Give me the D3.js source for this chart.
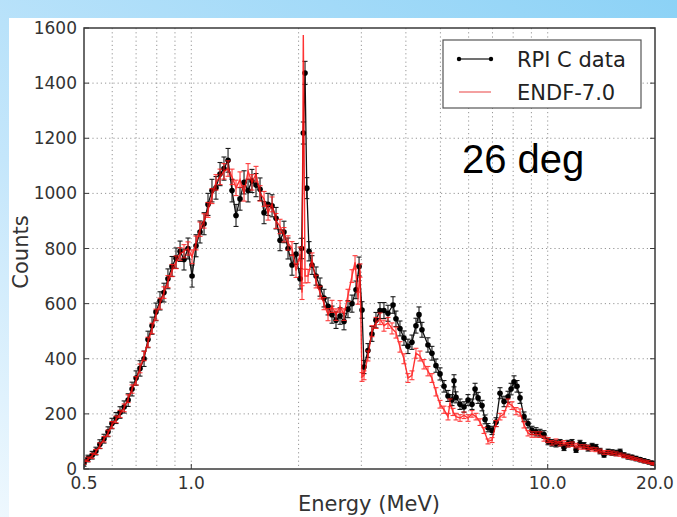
<!DOCTYPE html>
<html>
<head>
<meta charset="utf-8">
<script src="https://d3js.org/d3.v7.min.js"></script>
<style>
body {margin:0; padding:0; overflow:hidden}
svg {display:block}
</style>
</head>
<body>
<svg id="chart" width="677" height="517"></svg>
<script>

var rpiEnergy = [0.500,0.513,0.527,0.540,0.554,0.569,0.584,0.599,0.615,0.631,0.648,0.665,0.682,0.700,
    0.718,0.737,0.756,0.776,0.796,0.817,0.838,0.860,0.883,0.906,0.930,0.954,0.979,
    1.005,1.031,1.058,1.086,1.114,1.143,1.173,1.204,1.235,1.268,1.301,1.335,1.370,1.406,1.443,1.480,1.519,1.559,1.600,1.642,1.685,1.729,1.774,1.820,1.868,1.917,1.967,
    2.019,2.040,2.062,2.085,2.109,2.140,2.181,2.239,2.297,2.357,2.419,2.482,2.547,2.614,2.682,2.752,2.824,2.898,2.956,
    3.013,3.052,3.131,3.213,3.297,3.384,3.472,3.563,3.681,3.752,3.850,3.951,4.054,4.160,4.269,4.354,4.438,4.613,4.734,4.858,4.987,5.117,5.251,5.389,5.459,5.530,5.675,5.823,5.976,
    6.132,6.254,6.376,6.542,6.670,6.800,6.978,7.161,7.348,7.541,7.738,7.890,8.044,8.201,8.362,8.581,8.806,9.036,9.273,9.515,9.764,
    10.02,10.28,10.55,10.83,11.11,11.40,11.70,12.01,12.32,12.64,12.98,13.32,13.66,14.02,14.39,14.77,15.15,15.55,15.96,16.37,16.80,17.24,17.69,18.16,18.63,19.12,19.62,20.0]

var rpiCounts = [22,38,50,65,90,110,135,165,185,205,225,250,290,330,
    365,400,470,520,570,610,640,690,735,765,790,760,800,
    700,810,860,890,960,1010,1020,1070,1090,1120,1010,920,980,1040,1010,1045,1030,1015,930,960,955,910,830,860,800,740,780,
    690,800,1219,1437,1019,790,740,700,660,620,590,560,540,555,535,580,600,650,735,
    577,370,430,490,540,575,575,565,595,545,510,475,445,460,520,560,505,450,420,375,345,300,265,250,320,260,235,225,250,
    235,290,258,230,180,150,140,170,275,245,262,290,316,300,258,190,165,140,135,130,125,
    100,95,92,95,78,92,95,70,92,85,76,82,78,65,52,62,60,58,62,50,45,42,38,34,30,26,22,20]

var rpiErr = [12,12,14,14,16,16,18,19,20,21,22,23,25,26,
    28,28,30,31,32,33,34,36,36,37,37,38,38,
    40,40,40,40,40,41,41,42,42,43,41,40,41,42,41,42,42,41,40,40,40,39,38,39,38,37,38,
    37,37,40,42,38,35,34,33,33,32,31,31,30,30,30,31,31,32,34,
    30,24,25,27,28,29,29,29,30,28,27,26,26,26,27,28,27,26,25,24,22,21,20,20,22,20,19,19,20,
    19,21,20,19,16,15,15,16,20,19,20,21,22,21,20,17,16,15,15,14,14,
    12,12,12,12,11,12,12,10,12,11,11,11,11,10,9,10,10,10,10,9,9,8,8,7,7,6,6,6]

var endfEnergy = [0.500,0.513,0.527,0.540,0.554,0.569,0.584,0.599,0.615,0.631,0.648,0.665,0.682,0.700,
    0.718,0.737,0.756,0.776,0.796,0.817,0.838,0.860,0.883,0.906,0.930,0.954,0.979,
    1.005,1.031,1.058,1.086,1.114,1.143,1.173,1.204,1.235,1.268,1.301,1.335,1.370,1.406,1.443,1.480,1.519,1.559,1.600,1.642,1.685,1.729,1.774,1.820,1.868,1.917,1.967,
    2.019,2.045,2.062,2.085,2.126,2.181,2.239,2.297,2.357,2.419,2.482,2.547,2.614,2.682,2.752,2.824,2.880,2.936,2.974,3.013,
    3.052,3.131,3.213,3.297,3.384,3.472,3.563,3.657,3.752,3.850,3.951,4.054,4.160,4.269,4.381,4.496,4.613,4.734,4.858,4.987,
    5.117,5.251,5.320,5.424,5.530,5.675,5.823,5.976,6.132,6.293,6.458,6.627,6.800,6.978,7.161,7.348,7.541,7.738,7.941,8.149,
    8.362,8.581,8.806,9.036,9.273,9.515,9.764,
    10.02,10.28,10.55,10.83,11.11,11.40,11.70,12.01,12.32,12.64,12.98,13.32,13.66,14.02,14.39,14.77,15.15,15.55,15.96,16.37,16.80,17.24,17.69,18.16,18.63,19.12,19.62,20.0]

var endfCounts = [25,35,48,62,85,108,130,160,180,200,222,255,290,320,
    365,410,460,510,560,600,640,680,720,750,780,790,800,
    770,820,870,900,940,990,1040,1060,1080,1090,1060,1020,1050,1000,1080,1040,1070,1000,980,930,960,900,880,850,820,800,720,
    780,640,1575,700,700,760,680,640,600,560,590,560,590,560,630,700,750,620,720,334,
    340,410,500,530,545,520,530,510,495,443,400,330,340,420,410,380,355,330,280,235,
    215,190,240,207,190,185,195,185,200,190,170,140,100,105,165,190,200,240,230,210,
    205,160,130,125,125,125,110,
    105,95,100,92,95,88,90,85,80,80,78,72,70,65,60,60,58,55,52,48,44,40,36,32,28,25,20,18]

var endfErr = [8,8,9,9,10,10,11,12,12,13,14,14,15,15,
    16,17,18,19,20,20,21,22,22,23,23,24,24,
    25,25,26,26,27,27,28,28,28,28,28,28,28,28,28,28,28,28,27,27,27,27,26,26,26,25,25,
    25,25,0,25,24,24,23,23,22,22,22,21,21,21,22,23,24,22,24,16,
    16,18,20,20,21,20,20,20,20,19,18,16,16,18,18,17,17,16,15,14,
    13,12,14,13,12,12,12,12,12,12,12,11,9,9,11,12,12,14,14,13,
    13,11,10,10,10,10,9,
    9,8,9,8,8,8,8,8,8,8,8,7,7,7,7,7,7,7,6,6,6,6,5,5,5,5,4,4]

var xTickValues = [0.5,1,10,20]
var xTickLabels = ["0.5","1.0","10.0","20.0"]
var xGridValues = [0.6,0.7,0.8,0.9,1,2,3,4,5,6,7,8,9,10]
var yTickValues = [0,200,400,600,800,1000,1200,1400,1600]
var seriesNames = ["RPI C data","ENDF-7.0"]

function drawChart() {

    var svg = d3.select("#chart")
    var defs = svg.append("defs")

    var bgGrad = defs.append("linearGradient").attr("id","bg")
        .attr("x1","0").attr("y1","1").attr("x2","1").attr("y2","0")
    bgGrad.append("stop").attr("offset","0%").attr("stop-color","#eef8fe")
    bgGrad.append("stop").attr("offset","35%").attr("stop-color","#c4e6fb")
    bgGrad.append("stop").attr("offset","100%").attr("stop-color","#8cd2f6")

    svg.append("rect").attr("width",677).attr("height",517).attr("fill","url(#bg)")
    svg.append("rect").attr("x",9).attr("y",18).attr("width",668).attr("height",499).attr("fill","#ffffff")

    var pLeft = 84, pRight = 655, pTop = 28, pBottom = 469

    var x = d3.scaleLog().domain([0.5,20]).range([pLeft,pRight])
    var y = d3.scaleLinear().domain([0,1600]).range([pBottom,pTop])

    defs.append("clipPath").attr("id","plotclip").append("rect")
        .attr("x",pLeft).attr("y",pTop).attr("width",pRight-pLeft).attr("height",pBottom-pTop)

    // dotted grid
    var grid = svg.append("g")
    grid.selectAll("line.vg").data(xGridValues).enter().append("line")
        .attr("class","vg")
        .attr("x1",function(d) {return x(d)}).attr("x2",function(d) {return x(d)})
        .attr("y1",pTop).attr("y2",pBottom)
        .attr("stroke","#8a8a8a").attr("stroke-width",0.9).attr("stroke-dasharray","1.2,3")
    grid.selectAll("line.hg").data(yTickValues.slice(1,-1)).enter().append("line")
        .attr("class","hg")
        .attr("x1",pLeft).attr("x2",pRight)
        .attr("y1",function(d) {return y(d)}).attr("y2",function(d) {return y(d)})
        .attr("stroke","#8a8a8a").attr("stroke-width",0.9).attr("stroke-dasharray","1.2,3")

    var plot = svg.append("g").attr("clip-path","url(#plotclip)")

    var rpi = rpiEnergy.map(function(e,i) {return {e:e, c:rpiCounts[i], err:rpiErr[i] || 0}})
    var endf = endfEnergy.map(function(e,i) {return {e:e, c:endfCounts[i], err:endfErr[i] || 0}})

    var line = d3.line().x(function(d) {return x(d.e)}).y(function(d) {return y(d.c)})

    function errorBars(g, data, color, width) {
        var bars = g.selectAll("g.eb").data(data.filter(function(d) {return d.err>0})).enter().append("g").attr("class","eb")
        bars.append("line")
            .attr("x1",function(d) {return x(d.e)}).attr("x2",function(d) {return x(d.e)})
            .attr("y1",function(d) {return y(d.c-d.err)}).attr("y2",function(d) {return y(d.c+d.err)})
            .attr("stroke",color).attr("stroke-width",width)
        bars.selectAll("line.cap").data(function(d) {return [d.c-d.err,d.c+d.err].map(function(v) {return {e:d.e,v:v}})})
            .enter().append("line").attr("class","cap")
            .attr("x1",function(d) {return x(d.e)-2.5}).attr("x2",function(d) {return x(d.e)+2.5})
            .attr("y1",function(d) {return y(d.v)}).attr("y2",function(d) {return y(d.v)})
            .attr("stroke",color).attr("stroke-width",width)
    }

    // RPI measured data
    var rpiG = plot.append("g")
    errorBars(rpiG, rpi, "#1a1a1a", 1.1)
    rpiG.append("path").datum(rpi).attr("d",line)
        .attr("fill","none").attr("stroke","#111").attr("stroke-width",1.3)
    rpiG.selectAll("circle").data(rpi).enter().append("circle")
        .attr("cx",function(d) {return x(d.e)}).attr("cy",function(d) {return y(d.c)})
        .attr("r",2.8).attr("fill","#000")

    // ENDF simulation, drawn on top
    var endfG = plot.append("g").attr("opacity",0.85)
    errorBars(endfG, endf, "#ff1a1a", 1.1)
    endfG.append("path").datum(endf).attr("d",line)
        .attr("fill","none").attr("stroke","#ff1010").attr("stroke-width",1.4)

    // frame
    svg.append("rect").attr("x",pLeft).attr("y",pTop).attr("width",pRight-pLeft).attr("height",pBottom-pTop)
        .attr("fill","none").attr("stroke","#3a3a3a").attr("stroke-width",1.5)

    // ticks
    svg.selectAll("line.yt").data(yTickValues).enter().append("line").attr("class","yt")
        .attr("x1",pLeft).attr("x2",pLeft+5)
        .attr("y1",function(d) {return y(d)}).attr("y2",function(d) {return y(d)})
        .attr("stroke","#3a3a3a").attr("stroke-width",1)
    svg.selectAll("line.yt2").data(yTickValues).enter().append("line").attr("class","yt2")
        .attr("x1",pRight-5).attr("x2",pRight)
        .attr("y1",function(d) {return y(d)}).attr("y2",function(d) {return y(d)})
        .attr("stroke","#3a3a3a").attr("stroke-width",1)
    svg.selectAll("line.xt").data(xTickValues).enter().append("line").attr("class","xt")
        .attr("x1",function(d) {return x(d)}).attr("x2",function(d) {return x(d)})
        .attr("y1",pBottom).attr("y2",pBottom-5)
        .attr("stroke","#3a3a3a").attr("stroke-width",1)

    svg.selectAll("text.ylab").data(yTickValues).enter().append("text").attr("class","ylab")
        .attr("x",pLeft-7).attr("y",function(d) {return y(d)+6})
        .attr("text-anchor","end")
        .style("font-family","DejaVu Sans").style("font-size","17px").style("fill","#333")
        .text(function(d) {return d})

    svg.selectAll("text.xlab").data(xTickValues).enter().append("text").attr("class","xlab")
        .attr("x",function(d) {return x(d)}).attr("y",pBottom+20)
        .attr("text-anchor","middle")
        .style("font-family","DejaVu Sans").style("font-size","17px").style("fill","#333")
        .text(function(d,i) {return xTickLabels[i]})

    svg.append("text").attr("x",369).attr("y",511).attr("text-anchor","middle")
        .style("font-family","DejaVu Sans").style("font-size","21px").style("fill","#333")
        .text("Energy (MeV)")

    svg.append("text").attr("transform","translate(28,252) rotate(-90)").attr("text-anchor","middle")
        .style("font-family","DejaVu Sans").style("font-size","21px").style("fill","#333")
        .text("Counts")

    svg.append("text").attr("x",462).attr("y",173)
        .style("font-family","Liberation Sans").style("font-size","40px").style("fill","#000")
        .text("26 deg")

    // legend
    var legend = svg.append("g")
    legend.append("rect").attr("x",443).attr("y",40).attr("width",198).attr("height",68)
        .attr("fill","#fff").attr("stroke","#555").attr("stroke-width",1.2)

    var legendRows = legend.selectAll("g.row").data(seriesNames).enter().append("g").attr("class","row")
        .attr("transform",function(d,i) {return "translate(0," + (59+i*33) + ")"})
    legendRows.append("line").attr("x1",459).attr("x2",491).attr("y1",0).attr("y2",0)
        .attr("stroke",function(d,i) {return i==0 ? "#111" : "#f4a0a0"})
        .attr("stroke-width",function(d,i) {return i==0 ? 1.2 : 2})
    legendRows.filter(function(d,i) {return i==0}).selectAll("circle").data([459,491]).enter().append("circle")
        .attr("cx",function(d) {return d}).attr("cy",0).attr("r",2.2).attr("fill","#000")
    legendRows.append("text").attr("x",517).attr("y",8)
        .style("font-family","DejaVu Sans").style("font-size","21px").style("fill","#222")
        .text(function(d) {return d})
}

drawChart()

</script>
</body>
</html>
